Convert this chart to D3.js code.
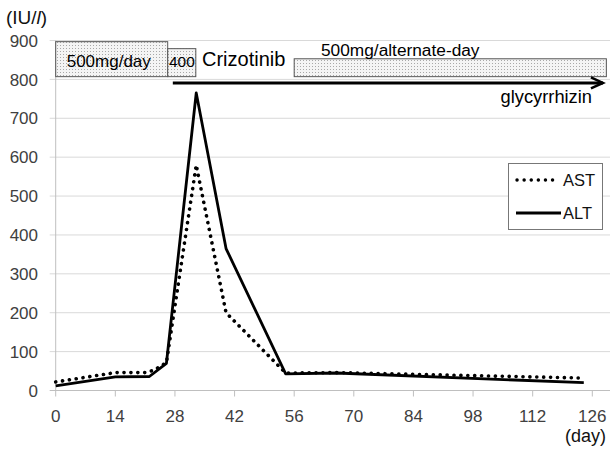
<!DOCTYPE html>
<html>
<head>
<meta charset="utf-8">
<script src="https://cdn.jsdelivr.net/npm/d3@7"></script>
<style>
  html, body { margin: 0; padding: 0; background: #fff; }
  svg { display: block; font-family: "Liberation Sans", Arial, sans-serif; }
</style>
</head>
<body>
<div id="chart"></div>
<script>
// Data
const astDays = [0, 14, 21, 23, 25, 26, 33, 34, 40, 54, 66, 124];
const astVals = [22, 46, 46, 52, 65, 72, 580, 525, 200, 45, 46, 32];
const altDays = [0, 14, 22, 26, 33, 40, 54, 66, 124];
const altVals = [12, 35, 36, 70, 765, 365, 43, 45, 20];
const xTicks = [0, 14, 28, 42, 56, 70, 84, 98, 112, 126];
const yTicks = [0, 100, 200, 300, 400, 500, 600, 700, 800, 900];

// dosing periods: [startDay, endDay, topValue, label]
const doses = [
  { from: 0, to: 26.3, top: 897, label: '500mg/day' },
  { from: 26.3, to: 32.9, top: 879, label: '400' },
  { from: 56, to: 129.3, top: 853, label: '500mg/alternate-day' }
];
const glyStart = 27.5, glyEnd = 128.5, glyLevel = 791;

const W = 613, H = 451;
const svg = d3.select('#chart').append('svg').attr('width', W).attr('height', H);

const x = d3.scaleLinear().domain([0, 126]).range([55.7, 592.3]);
const y = d3.scaleLinear().domain([0, 900]).range([390.5, 40.5]);
const gridRight = 610;

// stipple pattern for dose boxes
const pat = svg.append('defs').append('pattern')
  .attr('id', 'dots').attr('width', 3).attr('height', 3)
  .attr('patternUnits', 'userSpaceOnUse');
pat.append('rect').attr('width', 3).attr('height', 3).attr('fill', '#f4f4f4');
pat.append('rect').attr('width', 1).attr('height', 1).attr('fill', '#a8a8a8');

// Grid
svg.selectAll('.gy').data(yTicks.filter(d => d > 0)).join('line')
  .attr('x1', x(0) - 6).attr('x2', gridRight)
  .attr('y1', d => y(d)).attr('y2', d => y(d))
  .attr('stroke', '#d9d9d9').attr('stroke-width', 1);

// axes
svg.append('line').attr('x1', x(0)).attr('x2', x(0)).attr('y1', y(900)).attr('y2', y(0))
  .attr('stroke', '#bfbfbf');
svg.append('line').attr('x1', x(0) - 6).attr('x2', gridRight).attr('y1', y(0)).attr('y2', y(0))
  .attr('stroke', '#bfbfbf');
svg.selectAll('.tx').data(xTicks).join('line')
  .attr('x1', d => x(d)).attr('x2', d => x(d)).attr('y1', y(0)).attr('y2', y(0) + 6)
  .attr('stroke', '#bfbfbf');

svg.selectAll('.ylbl').data(yTicks).join('text')
  .attr('x', 38).attr('y', d => y(d)).attr('dy', '0.36em')
  .attr('text-anchor', 'end').attr('font-size', 17).attr('fill', '#404040')
  .text(d => d);
svg.selectAll('.xlbl').data(xTicks).join('text')
  .attr('x', d => x(d)).attr('y', 422)
  .attr('text-anchor', 'middle').attr('font-size', 17).attr('fill', '#404040')
  .text(d => d);

// unit labels
const unit = svg.append('text').attr('x', 6).attr('y', 24).attr('font-size', 19).attr('fill', '#111');
unit.append('tspan').text('(IU/');
unit.append('tspan').attr('font-style', 'italic').text('l');
unit.append('tspan').text(')');
svg.append('text').attr('x', 606).attr('y', 442).attr('text-anchor', 'end')
  .attr('font-size', 18).attr('fill', '#111').text('(day)');

// dose boxes
const boxBottom = 807;
svg.selectAll('.dose').data(doses).join('rect')
  .attr('x', d => x(d.from)).attr('y', d => y(d.top))
  .attr('width', d => x(d.to) - x(d.from)).attr('height', d => y(boxBottom) - y(d.top))
  .attr('fill', 'url(#dots)').attr('stroke', '#555').attr('stroke-width', 1);

svg.append('text').attr('x', 66.7).attr('y', 67).attr('font-size', 17).text(doses[0].label);
svg.append('text').attr('x', 169).attr('y', 67).attr('font-size', 15.5).text(doses[1].label);
svg.append('text').attr('x', 202).attr('y', 65.5).attr('font-size', 20).text('Crizotinib');
svg.append('text').attr('x', 321).attr('y', 56).attr('font-size', 17.3).text(doses[2].label);

// glycyrrhizin arrow
const ay = y(glyLevel);
svg.append('line').attr('x1', x(glyStart)).attr('x2', x(glyEnd)).attr('y1', ay).attr('y2', ay)
  .attr('stroke', '#000').attr('stroke-width', 3);
svg.append('path')
  .attr('d', `M${x(glyEnd) - 12},${ay - 5.5} L${x(glyEnd)},${ay} L${x(glyEnd) - 12},${ay + 5.5}`)
  .attr('fill', 'none').attr('stroke', '#000').attr('stroke-width', 2.5);
svg.append('text').attr('x', 592).attr('y', 103).attr('text-anchor', 'end')
  .attr('font-size', 18.3).text('glycyrrhizin');

// series
const line = d3.line().x(d => x(d[0])).y(d => y(d[1]));
svg.append('path').datum(d3.zip(altDays, altVals))
  .attr('d', line).attr('fill', 'none').attr('stroke', '#000')
  .attr('stroke-width', 2.8).attr('stroke-linejoin', 'round');
svg.append('path').datum(d3.zip(astDays, astVals))
  .attr('d', line).attr('fill', 'none').attr('stroke', '#000')
  .attr('stroke-width', 3.6).attr('stroke-linecap', 'round')
  .attr('stroke-dasharray', '0.1 6.8');

// legend
const lg = svg.append('g');
lg.append('rect').attr('x', 508.5).attr('y', 163.5).attr('width', 94).attr('height', 66)
  .attr('fill', '#fff').attr('stroke', '#777');
lg.append('line').attr('x1', 517).attr('x2', 559).attr('y1', 180).attr('y2', 180)
  .attr('stroke', '#000').attr('stroke-width', 3.4).attr('stroke-linecap', 'round')
  .attr('stroke-dasharray', '0.1 7');
lg.append('line').attr('x1', 516).attr('x2', 561).attr('y1', 213).attr('y2', 213)
  .attr('stroke', '#000').attr('stroke-width', 2.8);
lg.append('text').attr('x', 563).attr('y', 186).attr('font-size', 16.5).attr('fill', '#111').text('AST');
lg.append('text').attr('x', 563).attr('y', 219).attr('font-size', 16.5).attr('fill', '#111').text('ALT');
</script>
</body>
</html>
